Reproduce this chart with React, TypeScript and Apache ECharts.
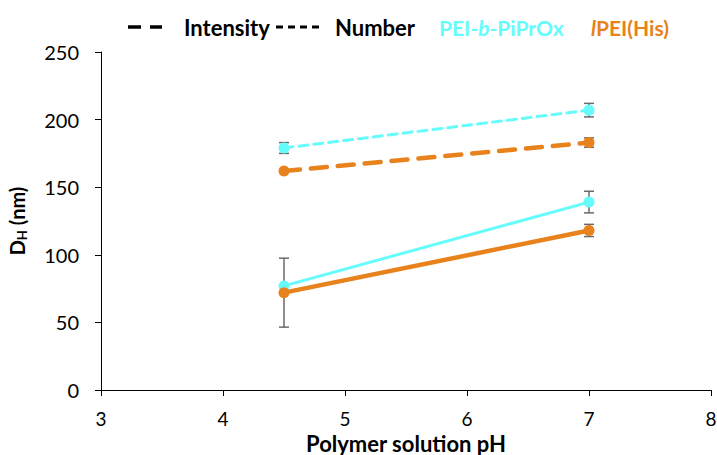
import React, { useEffect, useRef } from "react";
import * as echarts from "echarts";

const xValues = [4.5, 7];
const cyanNumber = [179, 207];
const cyanNumberErr = [4, 5];
const orangeNumber = [162, 183];
const orangeNumberErr = [1, 3.5];
const cyanIntensity = [77, 139];
const cyanIntensityErr = [0, 8];
const orangeIntensity = [72, 118];
const orangeIntensityErr = [25.5, 4.5];
const xTicks = [3, 4, 5, 6, 7, 8];
const yTicks = [0, 50, 100, 150, 200, 250];

const CYAN = "#66fcfc";
const ORANGE = "#e8821c";
const FONT = "Lato, 'Open Sans', sans-serif";

function errData(vals: number[], errs: number[]) {
  return xValues.map((x, i) => [x, vals[i] - errs[i], vals[i] + errs[i]]);
}

function errSeries(vals: number[], errs: number[]) {
  return {
    type: "custom",
    z: 1,
    data: errData(vals, errs).filter((d) => d[2] - d[1] > 0.5),
    renderItem: (params: any, api: any) => {
      const x = api.value(0);
      const lo = api.coord([x, api.value(1)]);
      const hi = api.coord([x, api.value(2)]);
      const w = 5;
      const style = { stroke: "#6a6a6a", lineWidth: 1.5 };
      return {
        type: "group",
        children: [
          { type: "line", shape: { x1: lo[0], y1: lo[1], x2: hi[0], y2: hi[1] }, style },
          { type: "line", shape: { x1: lo[0] - w, y1: lo[1], x2: lo[0] + w, y2: lo[1] }, style },
          { type: "line", shape: { x1: hi[0] - w, y1: hi[1], x2: hi[0] + w, y2: hi[1] }, style },
        ],
      };
    },
  };
}

function lineSeries(vals: number[], color: string, width: number, dash: any) {
  return {
    type: "line",
    z: 3,
    data: xValues.map((x, i) => [x, vals[i]]),
    symbol: "circle",
    symbolSize: 11,
    itemStyle: { color },
    lineStyle: { color, width, type: dash, cap: "round" },
  };
}

export default function App() {
  const ref = useRef<HTMLDivElement>(null);
  useEffect(() => {
    const chart = echarts.init(ref.current!, null, { renderer: "svg" });
    const LY = 27;
    chart.setOption({
      animation: false,
      grid: { left: 101, right: 6, top: 52, bottom: 65, containLabel: false, outerBoundsMode: "none" },
      xAxis: {
        type: "value",
        min: xTicks[0],
        max: xTicks[xTicks.length - 1],
        interval: 1,
        name: "Polymer solution pH",
        nameLocation: "middle",
        nameGap: 43,
        nameMoveOverlap: false,
        nameTextStyle: { fontFamily: FONT, fontSize: 22, lineHeight: 20, fontWeight: "bold", color: "#000" },
        axisLine: { lineStyle: { color: "#000", width: 1 } },
        axisTick: { show: true, length: 6, lineStyle: { color: "#000" } },
        axisLabel: { fontFamily: FONT, fontSize: 19, lineHeight: 16, color: "#000", margin: 20 },
        splitLine: { show: false },
      },
      yAxis: {
        type: "value",
        min: yTicks[0],
        max: yTicks[yTicks.length - 1],
        interval: 50,
        name: "{a|D}{s|H}{a| (nm)}",
        nameLocation: "middle",
        nameGap: 73,
        nameMoveOverlap: false,
        nameRotate: 90,
        nameTextStyle: {
          rich: {
            a: { fontFamily: FONT, fontSize: 20, fontWeight: "bold", color: "#000" },
            s: { fontFamily: FONT, fontSize: 13, fontWeight: "bold", color: "#000", verticalAlign: "bottom", padding: [9, 0, 0, 0] },
          },
        },
        axisLine: { show: true, lineStyle: { color: "#000", width: 1 } },
        axisTick: { show: true, length: 6, lineStyle: { color: "#000" } },
        axisLabel: { fontFamily: FONT, fontSize: 20, color: "#000", margin: 22 },
        splitLine: { show: false },
      },
      graphic: [
        { type: "line", shape: { x1: 128, y1: LY, x2: 141, y2: LY }, style: { stroke: "#000", lineWidth: 3.5 } },
        { type: "line", shape: { x1: 150, y1: LY, x2: 162, y2: LY }, style: { stroke: "#000", lineWidth: 3.5 } },
        { type: "text", x: 184, y: LY, style: { text: "Intensity", font: `bold 22px ${FONT}`, fill: "#000", verticalAlign: "middle" } },
        { type: "line", shape: { x1: 276, y1: LY, x2: 321, y2: LY }, style: { stroke: "#000", lineWidth: 3, lineDash: [7, 5] } },
        { type: "text", x: 335, y: LY, style: { text: "Number", font: `bold 22px ${FONT}`, fill: "#000", verticalAlign: "middle" } },
        {
          type: "text",
          x: 439,
          y: LY,
          style: {
            text: "{a|PEI-}{i|b}{a|-PiPrOx}",
            verticalAlign: "middle",
            rich: {
              a: { font: `bold 21px ${FONT}`, fill: CYAN },
              i: { font: `italic bold 21px ${FONT}`, fill: CYAN },
            },
          },
        },
        {
          type: "text",
          x: 591,
          y: LY,
          style: {
            text: "{i|l}{a|PEI(His)}",
            verticalAlign: "middle",
            rich: {
              a: { font: `bold 21px ${FONT}`, fill: ORANGE },
              i: { font: `italic bold 21px ${FONT}`, fill: ORANGE },
            },
          },
        },
      ],
      series: [
        errSeries(cyanNumber, cyanNumberErr),
        errSeries(orangeNumber, orangeNumberErr),
        errSeries(cyanIntensity, cyanIntensityErr),
        errSeries(orangeIntensity, orangeIntensityErr),
        lineSeries(cyanNumber, CYAN, 3, [9, 6]),
        lineSeries(orangeNumber, ORANGE, 4.5, [16, 11]),
        lineSeries(cyanIntensity, CYAN, 3, "solid"),
        lineSeries(orangeIntensity, ORANGE, 4.5, "solid"),
      ],
    });
    return () => chart.dispose();
  }, []);
  return <div ref={ref} style={{ width: 717, height: 455, position: "absolute", left: 0, top: 0 }} />;
}
